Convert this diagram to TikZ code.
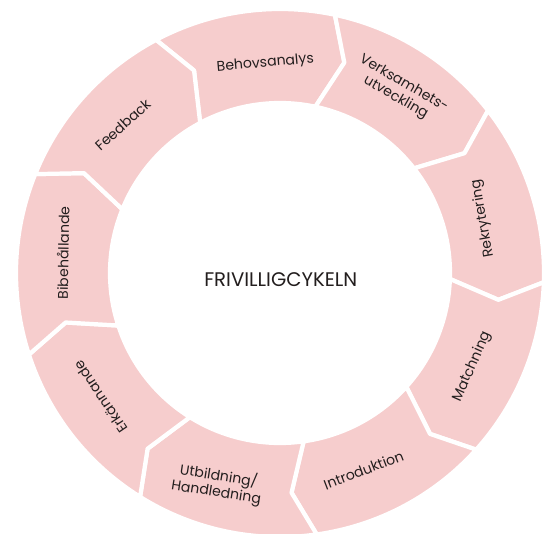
\documentclass[tikz,border=0pt]{standalone}
\usepackage{fontspec}
\setmainfont{Poppins}
\definecolor{ringpink}{RGB}{246,205,205}
\definecolor{labelgray}{RGB}{35,30,30}
\tikzset{
  seg/.style={fill=ringpink, draw=white, line width=3pt, line join=round},
  seglabel/.style={text=labelgray, font=\fontsize{10}{11.5}\selectfont, align=center, inner sep=0pt}
}
\begin{document}
\begin{tikzpicture}
\fill[white] (-7.0,-6.5) rectangle (6.8,6.825);
\useasboundingbox (-7.0,-6.5) rectangle (6.8,6.825);
% ring segments, clockwise from the top
\filldraw[seg] (118:6.6) arc[start angle=118, end angle=78, radius=6.6] -- (73:5.5) -- (78:4.25) arc[start angle=78, end angle=118, radius=4.25] -- (113:5.5) -- cycle;
\filldraw[seg] (78:6.6) arc[start angle=78, end angle=38, radius=6.6] -- (33:5.5) -- (38:4.25) arc[start angle=38, end angle=78, radius=4.25] -- (73:5.5) -- cycle;
\filldraw[seg] (38:6.6) arc[start angle=38, end angle=-2, radius=6.6] -- (-7:5.5) -- (-2:4.25) arc[start angle=-2, end angle=38, radius=4.25] -- (33:5.5) -- cycle;
\filldraw[seg] (-2:6.6) arc[start angle=-2, end angle=-42, radius=6.6] -- (-47:5.5) -- (-42:4.25) arc[start angle=-42, end angle=-2, radius=4.25] -- (-7:5.5) -- cycle;
\filldraw[seg] (-42:6.6) arc[start angle=-42, end angle=-82, radius=6.6] -- (-87:5.5) -- (-82:4.25) arc[start angle=-82, end angle=-42, radius=4.25] -- (-47:5.5) -- cycle;
\filldraw[seg] (-82:6.6) arc[start angle=-82, end angle=-122, radius=6.6] -- (-127:5.5) -- (-122:4.25) arc[start angle=-122, end angle=-82, radius=4.25] -- (-87:5.5) -- cycle;
\filldraw[seg] (-122:6.6) arc[start angle=-122, end angle=-162, radius=6.6] -- (-167:5.5) -- (-162:4.25) arc[start angle=-162, end angle=-122, radius=4.25] -- (-127:5.5) -- cycle;
\filldraw[seg] (-162:6.6) arc[start angle=-162, end angle=-202, radius=6.6] -- (-207:5.5) -- (-202:4.25) arc[start angle=-202, end angle=-162, radius=4.25] -- (-167:5.5) -- cycle;
\filldraw[seg] (158:6.6) arc[start angle=158, end angle=118, radius=6.6] -- (113:5.5) -- (118:4.25) arc[start angle=118, end angle=158, radius=4.25] -- (153:5.5) -- cycle;
% labels
\node[seglabel, rotate=5] (behov) at (94:5.25) {Behovsanalys};
\node[seglabel, rotate=-30] (verks) at (56.7:5.45) {Verksamhets-\\utveckling};
\node[seglabel, rotate=100] (rekr) at (15:5.25) {Rekrytering};
\node[seglabel, rotate=66] (match) at (-26:5.35) {Matchning};
\node[seglabel, rotate=21] (intro) at (-67:5.35) {Introduktion};
\node[seglabel, rotate=-9] (utb) at (-106.5:5.5) {Utbildning/\\Handledning};
\node[seglabel, rotate=124] (erk) at (-145.4:5.45) {Erkännande};
\node[seglabel, rotate=89] (bibe) at (174.7:5.45) {Bibehållande};
\node[seglabel, rotate=42] (feed) at (136.7:5.4) {Feedback};
\node[text=labelgray, font=\fontsize{14}{16}\selectfont, inner sep=0pt] (title) at (0.02,-0.17) {FRIVILLIGCYKELN};
\end{tikzpicture}
\end{document}
